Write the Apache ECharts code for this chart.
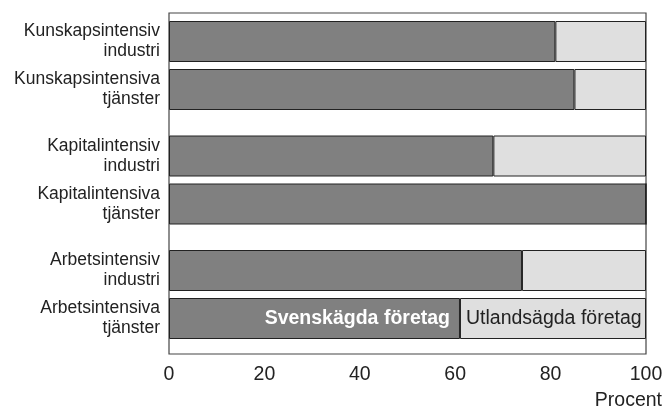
<!DOCTYPE html>
<html>
<head>
<meta charset="utf-8">
<script src="https://cdn.jsdelivr.net/npm/echarts@6/dist/echarts.min.js"></script>
<style>
  html, body { margin: 0; padding: 0; background: #fff; }
  #chart { width: 668px; height: 411px; }
</style>
</head>
<body>
<div id="chart"></div>
<script>
// categories, top to bottom, in three groups of two
const categories = [
    'Kunskapsintensiv\nindustri',
    'Kunskapsintensiva\ntjänster',
    'Kapitalintensiv\nindustri',
    'Kapitalintensiva\ntjänster',
    'Arbetsintensiv\nindustri',
    'Arbetsintensiva\ntjänster'
]
const swedishShare = [81, 85, 68, 100, 74, 61]
const foreignShare = [19, 15, 32, 0, 26, 39]
const seriesNames = ['Svenskägda företag', 'Utlandsägda företag']
const xTicks = [0, 20, 40, 60, 80, 100]

const font = "'Liberation Sans', Arial, Helvetica, sans-serif"
const groupTops = [17.5, 132, 246.5]
const groupHeight = 96

let grids = [], xAxes = [], yAxes = [], series = []

groupTops.forEach((top, g) => {
    grids.push({ left: 169, right: 22, top: top, height: groupHeight })
    xAxes.push({ type: 'value', gridIndex: g, min: 0, max: 100, show: false })
    yAxes.push({
        type: 'category',
        gridIndex: g,
        inverse: true,
        data: categories.slice(g * 2, g * 2 + 2),
        axisLine: { show: false },
        axisTick: { show: false },
        axisLabel: {
            fontFamily: font,
            fontSize: 17.5,
            lineHeight: 20,
            color: '#222',
            margin: 9
        }
    })
    const lastGroup = g === groupTops.length - 1
    const makeData = (arr, labelCfg) => arr.slice(g * 2, g * 2 + 2).map((v, i) => {
        if (lastGroup && i === 1) return { value: v, label: labelCfg }
        return v
    })
    series.push({
        name: seriesNames[0],
        type: 'bar',
        stack: 'g' + g,
        xAxisIndex: g,
        yAxisIndex: g,
        barWidth: 41,
        itemStyle: { color: '#808080', borderColor: '#222', borderWidth: 1 },
        label: { show: false },
        emphasis: { disabled: true },
        data: makeData(swedishShare, {
            show: true,
            position: 'insideRight',
            distance: 10,
            formatter: '{a}',
            color: '#fff',
            fontWeight: 'bold',
            fontFamily: font,
            fontSize: 19.5
        })
    })
    series.push({
        name: seriesNames[1],
        type: 'bar',
        stack: 'g' + g,
        xAxisIndex: g,
        yAxisIndex: g,
        barWidth: 41,
        itemStyle: { color: '#dfdfdf', borderColor: '#222', borderWidth: 1 },
        label: { show: false },
        emphasis: { disabled: true },
        data: makeData(foreignShare, {
            show: true,
            position: 'insideLeft',
            distance: 6,
            formatter: '{a}',
            color: '#222',
            fontFamily: font,
            fontSize: 19.5
        })
    })
})

// frame and the shared x axis
grids.push({
    left: 169, right: 22, top: 13, bottom: 55,
    show: true, borderColor: '#444', borderWidth: 1.2, backgroundColor: 'transparent'
})
xAxes.push({
    type: 'value',
    gridIndex: 3,
    min: xTicks[0],
    max: xTicks[xTicks.length - 1],
    interval: 20,
    axisLine: { show: false },
    axisTick: { show: false },
    splitLine: { show: false },
    axisLabel: { fontFamily: font, fontSize: 19.5, color: '#222', margin: 11 },
    name: 'Procent',
    nameLocation: 'end',
    nameGap: 16,
    nameTextStyle: {
        fontFamily: font, fontSize: 19.5, color: '#222',
        align: 'right', verticalAlign: 'top', padding: [37, 0, 0, 0]
    }
})
yAxes.push({ type: 'value', gridIndex: 3, show: false })

let chart = echarts.init(document.getElementById('chart'))
chart.setOption({
    animation: false,
    grid: grids,
    xAxis: xAxes,
    yAxis: yAxes,
    series: series
})
</script>
</body>
</html>
